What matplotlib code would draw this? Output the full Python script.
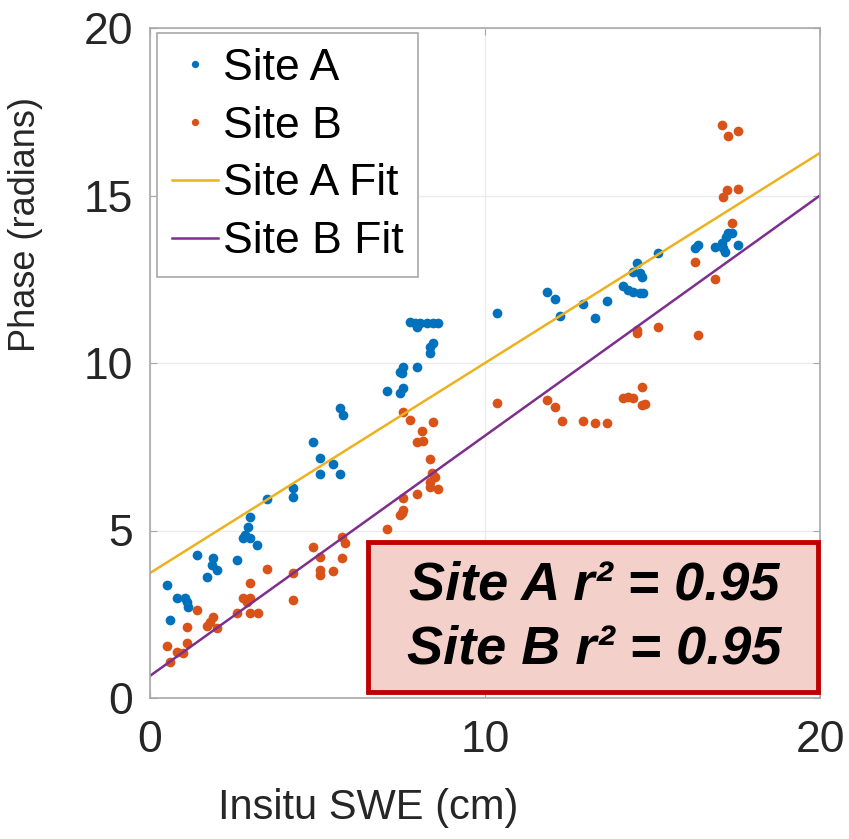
import numpy as np
import matplotlib.pyplot as plt
from matplotlib.patches import Rectangle

plt.rcParams['font.family'] = ['Liberation Sans', 'DejaVu Sans']

# Site A (blue dots)
siteA_x = [0.6, 0.5, 0.8, 1.04, 1.1, 1.13, 1.4, 1.7, 1.88, 1.85, 2.0, 2.6,
           2.99, 2.93, 2.84, 2.78, 2.99, 3.19, 3.49, 4.27, 4.27, 4.87, 5.07,
           5.47, 5.07, 5.67, 5.67, 5.76, 7.07, 7.46, 7.55, 7.46, 7.52, 7.55,
           7.97, 8.36, 8.36, 8.45, 7.76, 7.91, 8.06, 8.27, 8.45, 8.6, 7.97,
           10.36, 11.85, 12.09, 12.24, 12.93, 13.28, 13.64, 14.12, 14.27,
           14.42, 14.63, 14.72, 14.54, 14.42, 14.63, 14.69, 15.16, 16.27,
           16.36, 16.87, 17.07, 17.1, 17.16, 17.2, 17.25, 17.37, 17.55]
siteA_y = [2.33, 3.37, 3.0, 3.0, 2.87, 2.72, 4.27, 3.61, 4.18, 3.97, 3.82, 4.12,
           5.40, 5.1, 4.87, 4.78, 4.78, 4.57, 5.94, 6.27, 6.0, 7.64, 7.16,
           7.0, 6.7, 6.7, 8.66, 8.45, 9.16, 9.1, 9.25, 9.73, 9.7, 9.88,
           9.88, 10.3, 10.48, 10.6, 11.22, 11.2, 11.2, 11.2, 11.2, 11.2, 11.07,
           11.49, 12.12, 11.91, 11.4, 11.76, 11.34, 11.85, 12.3, 12.18,
           12.12, 12.09, 12.09, 12.99, 12.72, 12.69, 12.57, 13.28, 13.43,
           13.52, 13.46, 13.58, 13.43, 13.31, 13.76, 13.88, 13.88, 13.52]

# Site B (orange dots)
siteB_x = [0.6, 0.5, 0.8, 0.99, 1.1, 1.1, 1.4, 1.7, 1.79, 1.88, 2.0, 2.6,
           2.99, 3.22, 2.78, 2.99, 2.9, 2.99, 3.49, 4.27, 4.27, 4.87, 5.07,
           5.07, 5.07, 5.47, 5.73, 5.73, 5.82, 7.07, 7.46, 7.52, 7.55, 7.55,
           7.97, 8.36, 8.36, 8.51, 8.42, 8.6, 8.36, 7.97, 8.15, 8.12, 8.45,
           7.76, 7.55, 10.36, 11.85, 12.09, 12.3, 12.93, 13.28, 13.64, 14.12,
           14.27, 14.42, 14.69, 14.69, 14.78, 14.54, 14.54, 15.16, 16.36,
           16.27, 16.87, 17.37, 17.1, 17.22, 17.55, 17.07, 17.25, 17.55]
siteB_y = [1.07, 1.55, 1.37, 1.34, 1.64, 2.12, 2.63, 2.15, 2.27, 2.42, 2.09, 2.54,
           2.54, 2.54, 2.99, 2.99, 2.87, 3.43, 3.85, 3.73, 2.93, 4.51, 4.2,
           3.82, 3.67, 3.79, 4.18, 4.8, 4.63, 5.04, 5.46, 5.52, 5.61, 5.97,
           6.09, 6.3, 6.45, 6.6, 6.72, 6.24, 7.13, 7.64, 7.67, 7.97, 8.24,
           8.3, 8.54, 8.81, 8.9, 8.69, 8.27, 8.27, 8.21, 8.21, 8.96,
           9.0, 8.96, 9.28, 8.75, 8.78, 10.99, 10.9, 11.07, 10.84,
           13.01, 12.51, 14.18, 14.96, 15.16, 15.19, 17.1, 16.78, 16.93]

# linear fits (end points)
fit_x = [0, 20]
fitA_y = [3.73, 16.27]
fitB_y = [0.66, 15.0]

fig = plt.figure(figsize=(8.49, 8.39), dpi=100)
ax = fig.add_axes([150/849, 1-698/839, 670/849, 670/839])

ax.plot(siteA_x, siteA_y, 'o', color='#0072BD', ms=7, mec='none', label='Site A')
ax.plot(siteB_x, siteB_y, 'o', color='#D95319', ms=7, mec='none', label='Site B')
ax.plot(fit_x, fitA_y, '-', color='#EDB120', lw=1.8, label='Site A Fit')
ax.plot(fit_x, fitB_y, '-', color='#7E2F8E', lw=1.8, label='Site B Fit')

ax.set_xlim(0, 20)
ax.set_ylim(0, 20)
ax.set_xticks([0, 10, 20])
ax.set_yticks([0, 5, 10, 15, 20])
ax.grid(True, color='#EBEBEB', lw=1)
ax.set_axisbelow(True)
for s in ax.spines.values():
    s.set_color('#A8A8A8')
    s.set_linewidth(1.2)
ax.tick_params(direction='in', length=5, color='#A8A8A8', labelsize=32,
               labelcolor='#262626', top=True, right=True)
ax.tick_params(axis='x', pad=16)
ax.tick_params(axis='y', pad=12)

ax.set_xlabel('Insitu SWE (cm)', fontsize=30, color='#262626')
ax.set_ylabel('Phase (radians)', fontsize=26, color='#262626')
ax.xaxis.set_label_coords(0.325, -0.135)
ax.yaxis.set_label_coords(-0.16, 0.706)

leg = ax.legend(loc='upper left', bbox_to_anchor=(0.0104, 0.9925), borderaxespad=0,
                fontsize=32, fancybox=False, edgecolor='#A8A8A8', framealpha=1,
                handlelength=1.05, handletextpad=0.1, labelspacing=0.38,
                borderpad=0.33, markerscale=0.75)
leg.get_frame().set_linewidth(1.2)

# r^2 annotation box
fig.patches.append(Rectangle((368/849, 1-692/839), 450/849, 150/839,
                             transform=fig.transFigure, facecolor='#F4D0CA',
                             edgecolor='#C00000', lw=3.5, zorder=5))
fig.text(594/849, 1-585/839, 'Site A r\u00b2 = 0.95', fontsize=39, fontweight='bold',
         fontstyle='italic', ha='center', va='center', zorder=6)
fig.text(594/849, 1-650/839, 'Site B r\u00b2 = 0.95', fontsize=39, fontweight='bold',
         fontstyle='italic', ha='center', va='center', zorder=6)

fig.savefig('out.png', dpi=100)
